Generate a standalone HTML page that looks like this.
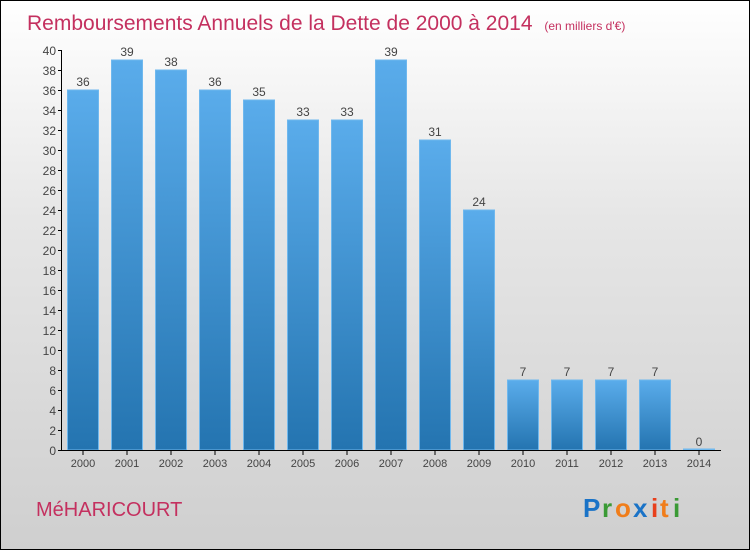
<!DOCTYPE html>
<html><head><meta charset="utf-8"><style>
body{margin:0}
#c{position:relative;width:748px;height:548px;border:1px solid #000;background:linear-gradient(#fff 0%,#e6e6e6 40%,#cfcfcf 100%);font-family:"Liberation Sans",sans-serif;overflow:hidden}
</style></head><body>
<div id="c">
<svg id="s" width="748" height="548">
<defs><linearGradient id="g" x1="0" y1="0" x2="0" y2="1"><stop offset="0" stop-color="#5aaceb"/><stop offset="1" stop-color="#2474b0"/></linearGradient></defs>
<text x="26" y="29" font-size="21" fill="#c4305f">Remboursements Annuels de la Dette de 2000 à 2014 <tspan font-size="12" dx="6">(en milliers d'€)</tspan></text>
<text x="35" y="515" font-size="20" fill="#c4305f">MéHARICOURT</text>
<g font-size="26" font-weight="bold">
<text x="582" y="516" fill="#1a73c7">P</text><text x="601" y="516" fill="#3a9a35">r</text><text x="614" y="516" fill="#f07d1a">o</text><text x="632" y="516" fill="#1a73c7">x</text><text x="650" y="516" fill="#e8401c">i</text><text x="659" y="516" fill="#f07d1a">t</text><text x="672" y="516" fill="#3a9a35">i</text></g>
<g id="plot"></g>
</svg></div>
<script>
const categories=["2000","2001","2002","2003","2004","2005","2006","2007","2008","2009","2010","2011","2012","2013","2014"];
const values=[36,39,38,36,35,33,33,39,31,24,7,7,7,7,0];
const yTicks=[0,2,4,6,8,10,12,14,16,18,20,22,24,26,28,30,32,34,36,38,40];
const x0=60,step=44,bw=31;
const y=v=>449-v*10;
const xc=i=>x0+22+i*step;
const NS="http://www.w3.org/2000/svg";
const p=document.getElementById('plot');
function mk(t,a){const e=document.createElementNS(NS,t);for(const k in a)e.setAttribute(k,a[k]);p.appendChild(e);return e;}
values.forEach((v,i)=>{
 const h=Math.max(v*10,1);
 const r=mk('rect',{x:xc(i)-bw/2,y:449-h,width:bw,height:h,fill:'url(#g)',stroke:'#6fb8ee','stroke-width':1});
 
 
 const t=mk('text',{x:xc(i),y:y(v)-4,'font-size':12,fill:'#444','text-anchor':'middle'});t.textContent=v;
 
 
 const c=mk('text',{x:xc(i),y:466,'font-size':11,fill:'#444','text-anchor':'middle'});c.textContent=categories[i];
 
 
 mk('line',{x1:xc(i),x2:xc(i),y1:450,y2:454,stroke:'#000'});
});
yTicks.forEach(v=>{
 mk('line',{x1:57,x2:61,y1:y(v)+.5,y2:y(v)+.5,stroke:'#000'});
 const t=mk('text',{x:55,y:y(v)+5,'font-size':12,fill:'#444','text-anchor':'end'});t.textContent=v;
 
 
});
const ya=mk('line',{x1:60.5,x2:60.5,y1:49,y2:450,stroke:'#000'});


const xa=mk('line',{x1:60,x2:720,y1:449.5,y2:449.5,stroke:'#000'});


</script>
</body></html>
